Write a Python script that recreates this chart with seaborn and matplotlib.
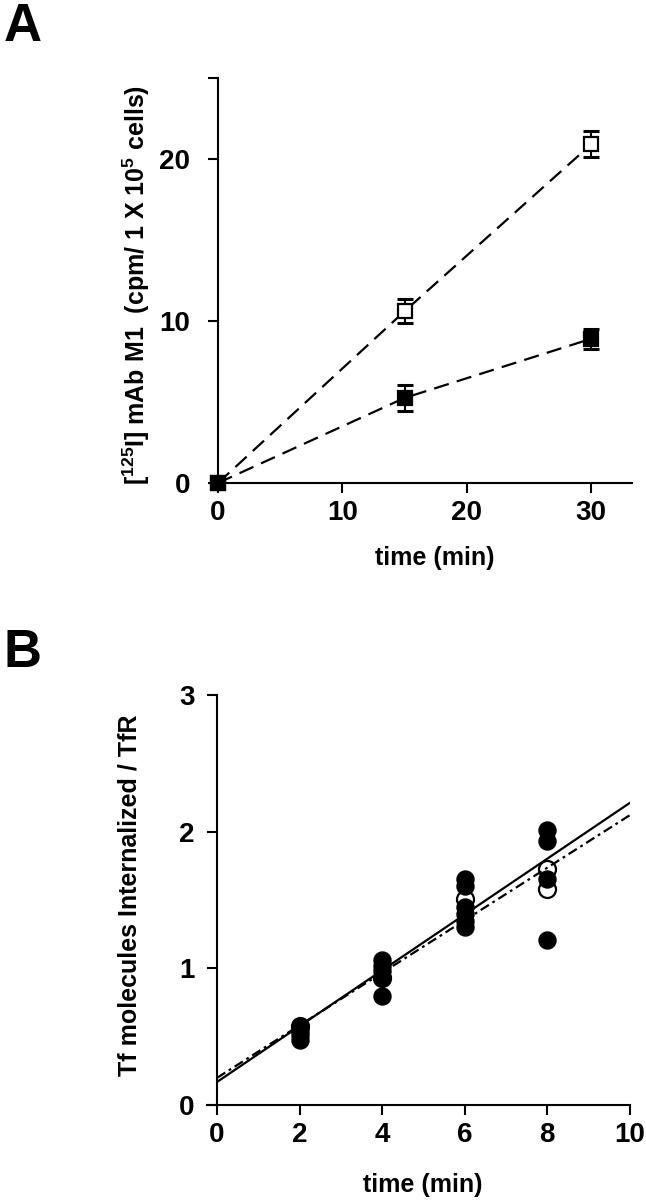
"""Internalization time courses (panels A and B)."""
import matplotlib
matplotlib.use("Agg")
import matplotlib.pyplot as plt
import numpy as np
import pandas as pd
import seaborn as sns

# panel A: [125I] mAb M1 uptake, mean +/- error
time_a = [0, 15, 30]
open_a = [0.0, 10.6, 20.9]
open_a_err = [0.0, 0.75, 0.8]
filled_a = [0.0, 5.25, 8.9]
filled_a_err = [0.0, 0.83, 0.62]

# panel B: Tf molecules internalized per TfR, individual points
filled_b_time = [2, 2, 2, 2, 4, 4, 4, 4, 4, 6, 6, 6, 6, 6, 6, 8, 8, 8, 8]
filled_b_val = [0.48, 0.51, 0.54, 0.57, 1.06, 1.02, 0.98, 0.94, 0.80,
                1.65, 1.60, 1.45, 1.40, 1.35, 1.30, 2.01, 1.93, 1.65, 1.21]
open_b_time = [2, 4, 6, 8, 8]
open_b_val = [0.58, 0.93, 1.51, 1.73, 1.58]

# linear fits (intercept, slope)
fit_x = [0, 10]
filled_fit = (0.17, 0.204)
open_fit = (0.20, 0.192)

sns.set_style("ticks")
plt.rcParams["font.family"] = ["Liberation Sans", "DejaVu Sans"]
plt.rcParams["font.weight"] = "bold"
plt.rcParams["text.color"] = "black"
plt.rcParams["axes.labelcolor"] = "black"
plt.rcParams["mathtext.fontset"] = "custom"
plt.rcParams["mathtext.rm"] = "Liberation Sans:bold"
plt.rcParams["mathtext.bf"] = "Liberation Sans:bold"
plt.rcParams["mathtext.default"] = "bf"
plt.rcParams["lines.scale_dashes"] = False

fig = plt.figure(figsize=(6.46, 12), dpi=100)
ax_a = fig.add_axes([0.3375, 0.5975, 0.641, 0.3375])
ax_b = fig.add_axes([0.320, 0.079, 0.655, 0.342])

# ---- panel A
for vals, errs, face in [(open_a, open_a_err, "white"), (filled_a, filled_a_err, "black")]:
    ax_a.errorbar(time_a, vals, yerr=errs, fmt="none", ecolor="black",
                  elinewidth=1.5, capsize=6, capthick=2.2, zorder=2)
    sns.lineplot(x=time_a, y=vals, ax=ax_a, color="black", lw=1.6,
                 linestyle=(0, (11, 6)), marker="s", markersize=10.5,
                 markerfacecolor=face, markeredgecolor="black",
                 markeredgewidth=1.6, zorder=3, clip_on=False)

ax_a.set_xlim(0, 33.3)
ax_a.set_ylim(0, 25)
ax_a.set_xticks([0, 10, 20, 30])
ax_a.set_yticks([0, 10, 20, 25])
ax_a.set_yticklabels(["0", "10", "20", ""])
ax_a.tick_params(axis="y", pad=13)
ax_a.set_xlabel("time (min)", fontsize=18, fontweight="bold")
ax_a.xaxis.set_label_coords(0.524, -0.155)
ax_a.xaxis.label.set_va("top")
ax_a.set_ylabel(r"[$^{125}$I] mAb M1  (cpm/ 1 X 10$^{5}$ cells)",
                fontsize=18, fontweight="bold")
ax_a.yaxis.set_label_coords(-0.16, 0.49)

# ---- panel B
sns.scatterplot(x=open_b_time, y=open_b_val, ax=ax_b, s=150, color="white",
                edgecolor="black", linewidth=1.6, zorder=3)
sns.scatterplot(x=filled_b_time, y=filled_b_val, ax=ax_b, s=150, color="black",
                edgecolor="black", linewidth=1, zorder=4)
fx = np.array(fit_x, dtype=float)
sns.lineplot(x=fx, y=filled_fit[0] + filled_fit[1] * fx, ax=ax_b,
             color="black", lw=1.6, zorder=5)
sns.lineplot(x=fx, y=open_fit[0] + open_fit[1] * fx, ax=ax_b,
             color="black", lw=1.6, linestyle=(0, (7, 3, 2, 3)), zorder=5)

ax_b.set_xlim(-0.25, 10)
ax_b.set_ylim(0, 3)
ax_b.spines["left"].set_position(("data", 0))
ax_b.set_xticks([0, 2, 4, 6, 8, 10])
ax_b.set_yticks([0, 1, 2, 3])
ax_b.tick_params(axis="y", pad=9)
ax_b.set_xlabel("time (min)", fontsize=18, fontweight="bold")
ax_b.xaxis.set_label_coords(0.511, -0.165)
ax_b.xaxis.label.set_va("top")
ax_b.set_ylabel("Tf molecules Internalized / TfR", fontsize=18, fontweight="bold")
ax_b.yaxis.set_label_coords(-0.155, 0.512)

for ax in (ax_a, ax_b):
    sns.despine(ax=ax)
    for s in ("left", "bottom"):
        ax.spines[s].set_linewidth(1.5)
        ax.spines[s].set_color("black")
    ax.tick_params(direction="out", length=7, width=1.5, color="black",
                   labelsize=20, labelcolor="black")
    ax.tick_params(axis="x", pad=5)
    for lab in ax.get_xticklabels() + ax.get_yticklabels():
        lab.set_fontweight("bold")
    if ax.get_legend() is not None:
        ax.get_legend().remove()

fig.text(0.006, 0.9775, "A", fontsize=38, fontweight="bold", va="center", ha="left")
fig.text(0.006, 0.456, "B", fontsize=38, fontweight="bold", va="center", ha="left")

fig.savefig("out.png", dpi=100)
